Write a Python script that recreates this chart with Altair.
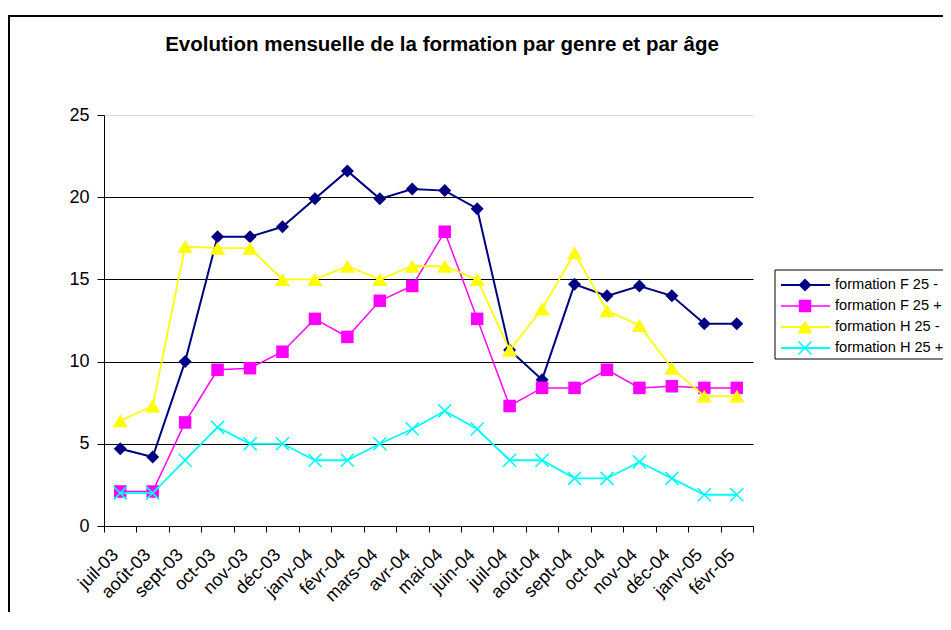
import altair as alt
import pandas as pd

months = ["juil-03", "août-03", "sept-03", "oct-03", "nov-03", "déc-03",
          "janv-04", "févr-04", "mars-04", "avr-04", "mai-04", "juin-04",
          "juil-04", "août-04", "sept-04", "oct-04", "nov-04", "déc-04",
          "janv-05", "févr-05"]

f25_moins = [4.7, 4.2, 10.0, 17.6, 17.6, 18.2, 19.9, 21.6, 19.9, 20.5,
             20.4, 19.3, 10.7, 8.9, 14.7, 14.0, 14.6, 14.0, 12.3, 12.3]
f25_plus = [2.1, 2.1, 6.3, 9.5, 9.6, 10.6, 12.6, 11.5, 13.7, 14.6,
            17.9, 12.6, 7.3, 8.4, 8.4, 9.5, 8.4, 8.5, 8.4, 8.4]
h25_moins = [6.4, 7.3, 17.0, 16.9, 16.9, 15.0, 15.0, 15.8, 15.0, 15.8,
             15.8, 15.0, 10.7, 13.2, 16.6, 13.1, 12.2, 9.6, 7.9, 7.9]
h25_plus = [2.0, 2.0, 4.0, 6.0, 5.0, 5.0, 4.0, 4.0, 5.0, 5.9,
            7.0, 5.9, 4.0, 4.0, 2.9, 2.9, 3.9, 2.9, 1.9, 1.9]

series_names = ["formation F 25 -", "formation F 25 +",
                "formation H 25 -", "formation H 25 +"]
series_values = [f25_moins, f25_plus, h25_moins, h25_plus]
title_text = "Evolution mensuelle de la formation par genre et par âge"

colors = ["#000080", "#FF00FF", "#FFFF00", "#00FFFF"]
shapes = ["diamond", "square", "triangle-up", "M-1,-1L1,1M-1,1L1,-1"]
sizes = [169, 156, 225, 169]
filled = [True, True, True, False]
line_widths = [2, 1.5, 1.8, 1.8]
legend_rows = [170, 191, 212, 233]

FONT = "Liberation Sans"

rows = []
for name, vals in zip(series_names, series_values):
    for m, v in zip(months, vals):
        rows.append({"month": m, "series": name, "value": v})
df = pd.DataFrame(rows)
df_leg = pd.DataFrame({"label": series_names})
df_title = pd.DataFrame({"t": [title_text]})

x_enc = alt.X(
    "month:N", sort=months, bandPosition=0.5, title=None,
    scale=alt.Scale(type="band", paddingInner=0, paddingOuter=0),
    axis=alt.Axis(tickBand="extent", grid=False, domainColor="black",
                  tickColor="black", tickSize=6, labelAngle=-45,
                  labelAlign="right", labelBaseline="middle",
                  labelFontSize=18, labelFont=FONT, labelColor="black",
                  labelPadding=20, labelOffset=-5),
)
y_enc = alt.Y(
    "value:Q", title=None,
    scale=alt.Scale(domain=[0, 25], nice=False),
    axis=alt.Axis(values=[0, 5, 10, 15, 20, 25], grid=True,
                  gridColor={"condition": {"test": "datum.value == 25",
                                           "value": "#d9d9d9"},
                             "value": "black"},
                  gridWidth=1, domainColor="black", tickColor="black",
                  tickSize=7, labelPadding=8, labelFontSize=18,
                  labelFont=FONT, labelColor="black"),
)

layers = []

# chart-area border
layers.append(
    alt.Chart(df_title).mark_rect(filled=False, stroke="black", strokeWidth=2)
    .encode(x=alt.value(-95), x2=alt.value(900),
            y=alt.value(-99), y2=alt.value(600))
)

for i, name in enumerate(series_names):
    base = alt.Chart(df).transform_filter(alt.datum.series == name)
    layers.append(
        base.mark_line(color=colors[i], strokeWidth=line_widths[i])
        .encode(x=x_enc, y=y_enc)
    )
    if filled[i]:
        pt = base.mark_point(shape=shapes[i], size=sizes[i], filled=True,
                             color=colors[i], opacity=1)
    else:
        pt = base.mark_point(shape=shapes[i], size=sizes[i], filled=False,
                             color=colors[i], strokeWidth=1.6, opacity=1)
    layers.append(pt.encode(x=x_enc, y=y_enc))

# legend
layers.append(
    alt.Chart(df_title).mark_rect(fill="white", stroke="black", strokeWidth=1)
    .encode(x=alt.value(671), x2=alt.value(900),
            y=alt.value(155), y2=alt.value(244))
)
for i, name in enumerate(series_names):
    lb = alt.Chart(df_leg).transform_filter(alt.datum.label == name)
    yv = legend_rows[i]
    layers.append(
        lb.mark_rule(color=colors[i], strokeWidth=line_widths[i])
        .encode(x=alt.value(677), x2=alt.value(726), y=alt.value(yv))
    )
    if filled[i]:
        lp = lb.mark_point(shape=shapes[i], size=sizes[i], filled=True,
                           color=colors[i], opacity=1)
    else:
        lp = lb.mark_point(shape=shapes[i], size=sizes[i], filled=False,
                           color=colors[i], strokeWidth=1.6, opacity=1)
    layers.append(lp.encode(x=alt.value(701), y=alt.value(yv)))
    layers.append(
        lb.mark_text(align="left", baseline="middle", fontSize=14.6,
                     font=FONT, color="black")
        .encode(x=alt.value(731), y=alt.value(yv), text="label:N")
    )

# title
layers.append(
    alt.Chart(df_title).mark_text(align="center", baseline="middle",
                                  fontSize=20.5, fontWeight="bold",
                                  font=FONT, color="black")
    .encode(x=alt.value(338), y=alt.value(-70), text="t:N")
)

chart = alt.layer(*layers).properties(
    width=649, height=411,
    autosize=alt.AutoSizeParams(type="none"),
    padding={"left": 96, "top": 107, "right": 190, "bottom": 86},
    background="white",
).configure_view(strokeOpacity=0)

chart.save("out.html", embed_options={"renderer": "svg", "actions": False})
